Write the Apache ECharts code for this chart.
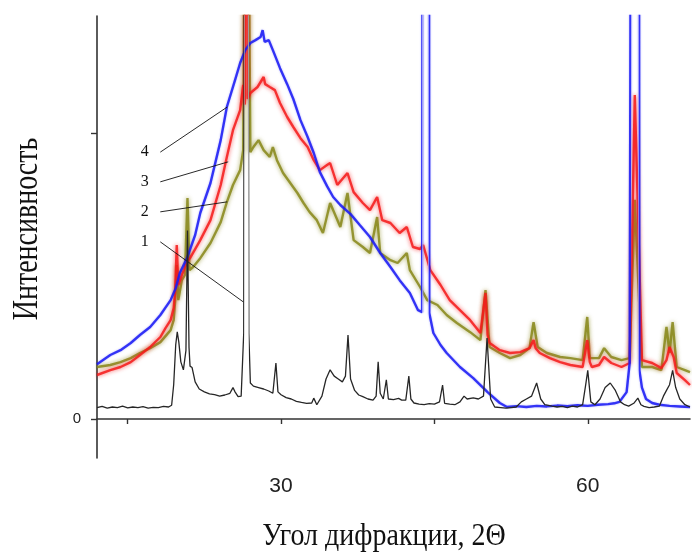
<!DOCTYPE html>
<html>
<head>
<meta charset="utf-8">
<script src="https://cdn.jsdelivr.net/npm/echarts@6/dist/echarts.min.js"></script>
<style>html,body{margin:0;padding:0;background:#fff}#c{width:692px;height:552px}</style>
</head>
<body>
<div id="c"></div>
<script>
// 2θ (degrees) vs intensity (arb. units; 1000 = unlabeled upper tick)
const xrd1 = [[12.0,40],[12.5,44],[13,38],[13.5,42],[14,40],[14.5,45],[15,39],[15.5,42],[16,40],[16.5,43],[17,38],[17.5,41],[18,40],[18.5,44],[19,42],[19.3,48],[19.5,120],[19.7,260],[19.85,305],[20.0,270],[20.2,200],[20.45,172],[20.7,240],[20.85,660],[21.0,250],[21.1,185],[21.3,180],[21.6,130],[22,105],[22.5,95],[23,88],[23.5,85],[24,80],[24.5,84],[25,90],[25.3,110],[25.5,95],[25.8,78],[26.1,80],[26.35,300],[26.45,3000],[26.75,3000],[26.85,300],[27.0,126],[27.3,115],[27.8,110],[28.3,105],[28.8,98],[29.2,90],[29.5,196],[29.7,95],[30,85],[30.5,75],[31,70],[31.5,62],[32,58],[32.5,55],[33,56],[33.2,73],[33.5,50],[34,80],[34.4,140],[34.8,172],[35.2,150],[35.6,140],[36.0,130],[36.3,150],[36.55,294],[36.8,140],[37.2,100],[37.6,84],[38,78],[38.5,70],[39,66],[39.3,80],[39.5,200],[39.7,90],[40.0,70],[40.3,137],[40.5,70],[41,68],[41.5,72],[41.8,66],[42.2,66],[42.5,150],[42.7,70],[43,56],[43.5,52],[44,50],[44.5,54],[45,52],[45.5,60],[45.8,119],[46.0,55],[46.5,52],[47,50],[47.5,60],[47.9,80],[48.2,70],[48.8,74],[49.3,70],[49.8,80],[50.15,283],[50.5,70],[50.9,42],[51.5,40],[52,38],[52.5,40],[53,42],[53.5,60],[54.0,70],[54.5,80],[55.0,126],[55.4,70],[55.8,50],[56.5,45],[57,42],[57.5,44],[58,40],[58.5,45],[59,42],[59.5,50],[59.8,120],[60.0,170],[60.3,60],[60.7,50],[61.2,70],[61.7,110],[62.2,126],[62.7,100],[63.2,60],[63.6,50],[64,45],[64.5,55],[64.9,73],[65.2,50],[65.5,44],[66,40],[66.5,42],[67,45],[67.4,80],[67.7,100],[68.0,120],[68.3,170],[68.6,110],[69,70],[69.5,50],[70,42]];

const xrd2 = [[12.0,182],[13.3,189],[14.3,199],[15.3,213],[16.2,231],[17.2,248],[18.2,269],[19.2,311],[19.5,346],[19.65,416],[19.8,539],[19.95,416],[20.3,486],[20.6,504],[20.85,773],[21.05,521],[21.4,532],[22.1,563],[23.1,616],[24.1,689],[24.7,759],[25.3,819],[26.0,871],[26.3,941],[26.6,3000],[27.0,934],[27.3,952],[27.8,976],[28.3,941],[28.9,917],[29.2,952],[29.6,906],[30.2,861],[30.9,826],[31.6,791],[32.2,756],[32.8,724],[33.5,696],[34.1,651],[34.8,756],[35.8,672],[36.5,791],[37.1,626],[38.0,602],[38.7,581],[39.4,707],[39.7,581],[40.7,556],[41.4,546],[42.3,581],[42.6,521],[43.6,462],[44.3,416],[45.3,399],[46.2,364],[47.2,336],[48.5,304],[49.5,276],[50.0,451],[50.4,252],[51.4,231],[52.4,213],[53.4,224],[54.3,248],[54.7,339],[55.1,252],[56.0,231],[57.3,217],[58.3,213],[59.5,206],[59.95,357],[60.2,213],[61.1,213],[61.6,248],[62.3,217],[63.3,206],[64.1,213],[64.6,767],[65.3,182],[66.3,182],[67.2,171],[67.7,322],[68.0,231],[68.3,339],[68.7,182],[69.5,171],[70.0,164]];

const xrd3 = [[12.0,154],[13.3,171],[14.3,182],[15.3,199],[16.2,224],[17.2,252],[18.2,287],[18.7,318],[19.2,346],[19.5,388],[19.65,451],[19.8,609],[19.95,469],[20.3,504],[20.8,549],[21.1,563],[22.1,626],[23.1,696],[24.1,819],[24.7,917],[25.3,1011],[26.0,1081],[26.3,1169],[26.45,1100],[26.6,3000],[26.75,1120],[27.0,1141],[27.7,1162],[28.3,1197],[28.45,1172],[28.9,1162],[29.4,1151],[29.9,1106],[30.6,1057],[31.2,1022],[31.9,983],[32.6,952],[33.2,906],[33.8,871],[34.5,889],[34.8,896],[35.5,819],[36.5,861],[37.1,794],[38.0,756],[38.7,731],[39.4,777],[39.9,696],[40.7,686],[41.6,651],[42.3,672],[42.9,602],[43.6,595],[43.9,609],[44.6,521],[45.6,469],[46.5,416],[47.5,381],[48.5,346],[49.5,301],[50.0,441],[50.2,294],[50.4,266],[51.4,241],[52.4,231],[53.4,234],[54.3,248],[54.7,276],[54.9,248],[55.3,231],[56.3,213],[57.3,199],[58.3,189],[59.5,182],[59.95,276],[60.2,199],[60.4,182],[61.1,189],[61.6,217],[62.3,196],[63.3,182],[64.1,196],[64.6,1134],[65.3,206],[66.3,196],[67.2,178],[67.7,206],[68.0,252],[68.4,217],[68.7,161],[69.5,136],[70.0,119]];

const xrd4 = [[12.0,192],[13.3,224],[14.3,241],[15.3,266],[16.2,294],[17.2,322],[18.2,364],[19.2,416],[19.7,458],[20.1,511],[20.8,563],[21.6,644],[22.1,721],[23.1,826],[24.1,976],[24.7,1092],[25.5,1186],[26.0,1246],[26.5,1291],[27.0,1316],[27.5,1326],[28.0,1337],[28.2,1361],[28.4,1320],[28.8,1326],[29.2,1291],[29.9,1228],[30.6,1172],[31.2,1120],[31.9,1046],[32.6,987],[33.2,931],[33.8,864],[34.5,815],[35.1,777],[35.8,749],[36.8,717],[37.7,679],[38.7,637],[39.7,581],[40.7,532],[41.6,486],[42.6,441],[43.4,381],[43.8,374],[43.93,5000],[44.42,5000],[44.5,371],[44.9,301],[45.6,259],[46.2,231],[47.5,182],[48.8,143],[50.2,94],[51.4,56],[52.1,42],[53,45],[54,42],[55,46],[56,44],[57,47],[58,45],[59,48],[60,46],[61,50],[62,52],[62.6,55],[63.1,60],[63.8,94],[64.1,196],[64.4,5000],[64.95,5000],[65.05,171],[65.3,110],[65.7,70],[66.3,56],[67,50],[68,46],[69,44],[70,42]];

const xTicks = [15, 30, 45, 60];
const xTickLabels = [30, 60];
const yTicks = [0, 1000];
const yTickLabels = [0];

// curve number annotations: [label, start [2θ, I], end [2θ, I]]
const leaderLabels = ['4', '3', '2', '1'];
const leaderStarts = [[18.19, 934], [18.19, 830], [18.19, 725], [18.19, 620]];
const leaderEnds = [[24.74, 1092], [24.83, 900], [24.74, 760], [26.3, 410]];

const xTitle = 'Угол дифракции, 2Θ';
const yTitle = 'Интенсивность';

const chart = echarts.init(document.getElementById('c'), null, {renderer: 'canvas'});

const leaderData = leaderLabels.map((l, i) => [
  {coord: leaderStarts[i]},
  {coord: leaderEnds[i]}
]);
const leaderPoints = leaderLabels.map((l, i) => ({coord: leaderStarts[i], name: l}));

function lineSeries(data, color, width, z, blur, shadowColor) {
  const ls = {width: width, shadowBlur: blur || 0, shadowColor: shadowColor || color || 'transparent'};
  if (color) ls.color = color;
  return {
    type: 'line', data: data, showSymbol: false, symbol: 'none', smooth: false,
    sampling: null, clip: true, z: z, silent: true, animation: false,
    lineStyle: ls
  };
}

const BLUE = 'rgba(25,25,245,0.85)';
const PALE_BLUE = 'rgba(150,150,250,0.8)';
const DARK = '#262626';
const GREY = 'rgba(160,160,160,0.95)';

const option = {
  animation: false,
  backgroundColor: '#fff',
  grid: {left: 97, right: 2, top: 16, bottom: 94, containLabel: false},
  visualMap: [
    {type: 'piecewise', show: false, seriesIndex: 2, dimension: 0,
     pieces: [{lt: 43.81, color: BLUE}, {gte: 43.81, lte: 44.46, color: PALE_BLUE},
              {gt: 44.46, lt: 64.2, color: BLUE}, {gte: 64.2, lte: 65.0, color: PALE_BLUE},
              {gt: 65.0, color: BLUE}]},
    {type: 'piecewise', show: false, seriesIndex: 3, dimension: 0,
     pieces: [{lt: 26.35, color: DARK}, {gte: 26.35, lte: 26.84, color: GREY}, {gt: 26.84, color: DARK}]}
  ],
  xAxis: {
    type: 'value', min: 12, max: 70,
    axisLine: {show: true, lineStyle: {color: '#333', width: 1.6}},
    axisTick: {show: true, customValues: xTicks, length: 5, lineStyle: {color: '#333', width: 1.4}},
    axisLabel: {show: true, customValues: xTickLabels, fontSize: 21, color: '#222', fontFamily: 'Liberation Sans, Arial, sans-serif', margin: 18},
    splitLine: {show: false}
  },
  yAxis: {
    type: 'value', min: -136.5, max: 1410.5,
    axisLine: {show: true, lineStyle: {color: '#333', width: 1.6}},
    axisTick: {show: true, customValues: yTicks, length: 6, lineStyle: {color: '#333', width: 1.4}},
    axisLabel: {show: true, customValues: yTickLabels, fontSize: 15, color: '#222', fontFamily: 'Liberation Sans, Arial, sans-serif', margin: 16},
    splitLine: {show: false}
  },
  series: [
    lineSeries(xrd2, 'rgba(135,135,25,0.85)', 2.4, 2, 4),
    lineSeries(xrd3, 'rgba(245,25,25,0.85)', 2.4, 3, 4),
    lineSeries(xrd4, null, 2.4, 4, 2, 'rgba(25,25,245,0.4)'),
    Object.assign(lineSeries(xrd1, null, 1.3, 5, 0), {
      markLine: {
        silent: true, symbol: 'none', animation: false,
        lineStyle: {color: '#111', width: 0.9, type: 'solid'},
        label: {show: false},
        data: leaderData
      },
      markPoint: {
        silent: true, symbol: 'circle', symbolSize: 1, animation: false,
        itemStyle: {color: 'rgba(0,0,0,0)'},
        label: {show: true, position: 'left', distance: 11, formatter: '{b}',
                fontFamily: 'Liberation Serif, Times New Roman, serif', fontSize: 16, color: '#111'},
        data: leaderPoints
      }
    })
  ],
  graphic: [
    {type: 'text', x: 384, y: 537, scaleY: 1.12, silent: true,
     style: {text: xTitle, font: '28px "Liberation Serif", "Times New Roman", serif', fill: '#111',
             align: 'center', verticalAlign: 'middle'}},
    {type: 'text', x: 27, y: 229, rotation: Math.PI / 2, scaleY: 1.3, silent: true,
     style: {text: yTitle, font: '28px "Liberation Serif", "Times New Roman", serif', fill: '#111',
             align: 'center', verticalAlign: 'middle'}}
  ]
};
chart.setOption(option);
</script>
</body>
</html>
